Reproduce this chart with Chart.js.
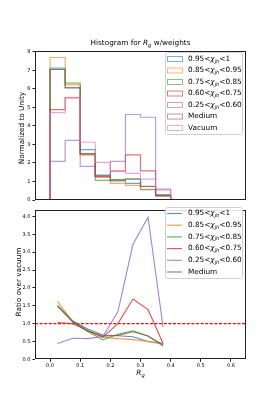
<!DOCTYPE html>
<html>
<head>
<meta charset="utf-8">
<script src="https://cdn.jsdelivr.net/npm/chart.js@4.4.0/dist/chart.umd.min.js"></script>
<style>
  html, body { margin: 0; padding: 0; background: #fff; }
  #wrap { position: relative; width: 274px; height: 411px; }
  #histCanvas { position: absolute; left: 0; top: 0; }
  #ratioCanvas { position: absolute; left: 0; top: 205px; }
</style>
</head>
<body>
<div id="wrap">
  <canvas id="histCanvas" width="274" height="205"></canvas>
  <canvas id="ratioCanvas" width="274" height="206"></canvas>
</div>
<script>
/* Rg histogram (step outlines) + ratio over vacuum */

const binEdges = [0, 0.05, 0.1, 0.15, 0.2, 0.25, 0.3, 0.35, 0.4];
const binCenters = [0.025, 0.075, 0.125, 0.175, 0.225, 0.275, 0.325, 0.375];
const xTicks = [0, 0.1, 0.2, 0.3, 0.4, 0.5, 0.6];
const histYTicks = [0, 1, 2, 3, 4, 5, 6, 7, 8];
const ratioYTicks = [0, 0.5, 1, 1.5, 2, 2.5, 3, 3.5, 4];

const labels = ["0.95<χjh<1", "0.85<χjh<0.95", "0.75<χjh<0.85", "0.60<χjh<0.75", "0.25<χjh<0.60", "Medium", "Vacuum"];
const colors = ["31,119,180", "255,127,14", "44,160,44", "214,39,40", "148,103,189", "140,86,75", "227,119,194"];

const histChi095 = [7.12, 6.05, 2.72, 1.35, 1.03, 0.9, 0.56, 0.28];
const histChi085 = [7.7, 6.22, 2.42, 1.25, 0.9, 0.79, 0.58, 0.24];
const histChi075 = [7.05, 6.31, 2.48, 1.06, 1.1, 1.14, 0.74, 0.22];
const histChi060 = [4.88, 5.52, 2.5, 1.25, 1.56, 2.44, 1.57, 0.27];
const histChi025 = [2.09, 3.22, 1.82, 1.3, 2.09, 4.62, 4.47, 0.55];
const histMedium = [7.05, 6.07, 2.5, 1.3, 1.07, 1.12, 0.73, 0.22];
const histVacuum = [4.72, 5.55, 3.12, 2.03, 1.56, 1.44, 1.13, 0.6];

const ratioChi095 = [1.5, 1.08, 0.85, 0.68, 0.66, 0.63, 0.5, 0.45];
const ratioChi085 = [1.62, 1.05, 0.8, 0.62, 0.58, 0.55, 0.5, 0.42];
const ratioChi075 = [1.5, 1.05, 0.78, 0.54, 0.7, 0.8, 0.65, 0.37];
const ratioChi060 = [1.03, 1.0, 0.8, 0.62, 1.0, 1.69, 1.39, 0.44];
const ratioChi025 = [0.44, 0.59, 0.58, 0.64, 1.33, 3.22, 3.98, 0.9];
const ratioMedium = [1.48, 1.05, 0.8, 0.65, 0.67, 0.77, 0.65, 0.4];

const histSeries = [histChi095, histChi085, histChi075, histChi060, histChi025, histMedium, histVacuum];
const ratioSeries = [ratioChi095, ratioChi085, ratioChi075, ratioChi060, ratioChi025, ratioMedium];

const FONT = "DejaVu Sans";
const tickFont = { family: FONT, size: 5 };
const rgba = (c, a) => `rgba(${c},${a})`;

// step outline points: up from 0 at first edge, down to 0 at last edge
function stepPoints(values) {
  const pts = [{ x: binEdges[0], y: 0 }];
  values.forEach((v, i) => pts.push({ x: binEdges[i], y: v }));
  pts.push({ x: binEdges[binEdges.length - 1], y: 0 });
  return pts;
}

// text with optional italic / subscript parts
function drawRich(ctx, parts, x, y, size, align) {
  const pieces = parts.map((p) => {
    const s = p.sub ? size * 0.7 : size;
    const f = `${p.italic ? "italic " : ""}${s}px "${FONT}"`;
    ctx.font = f;
    return { t: p.t, f, w: ctx.measureText(p.t).width, dy: p.sub ? size * 0.3 : 0 };
  });
  const total = pieces.reduce((a, p) => a + p.w, 0);
  let cx = align === "center" ? x - total / 2 : x;
  ctx.textAlign = "left";
  ctx.textBaseline = "middle";
  ctx.fillStyle = "#000";
  pieces.forEach((p) => {
    ctx.font = p.f;
    ctx.fillText(p.t, cx, y + p.dy);
    cx += p.w;
  });
}

function labelParts(lbl) {
  const m = lbl.match(/^(.*<)χjh(<.*)$/);
  if (!m) return [{ t: lbl }];
  return [{ t: m[1] }, { t: "χ", italic: true }, { t: "jh", italic: true, sub: true }, { t: m[2] }];
}

const framePlugin = {
  id: "frame",
  afterDatasetsDraw(chart) {
    const { ctx, chartArea: a } = chart;
    ctx.save();
    ctx.strokeStyle = "#222";
    ctx.lineWidth = 1;
    ctx.strokeRect(Math.round(a.left) + 0.5, Math.round(a.top) + 0.5, Math.round(a.right - a.left) - 1, Math.round(a.bottom - a.top) - 1);
    ctx.restore();
  },
};

function legendBox(ctx, x, y, w, h) {
  ctx.beginPath();
  ctx.roundRect(x, y, w, h, 2);
  ctx.fillStyle = "rgba(255,255,255,0.85)";
  ctx.fill();
  ctx.strokeStyle = "#d0d0d0";
  ctx.lineWidth = 1;
  ctx.stroke();
}

const histDecor = {
  id: "histDecor",
  afterDraw(chart) {
    const ctx = chart.ctx;
    ctx.save();
    drawRich(ctx, [{ t: "Histogram for " }, { t: "R", italic: true }, { t: "g", italic: true, sub: true }, { t: " w/weights" }], 140.5, 43, 7.3, "center");
    ctx.translate(22.5, 128);
    ctx.rotate(-Math.PI / 2);
    drawRich(ctx, [{ t: "Normalized to Unity" }], 0, 0, 7.3, "center");
    ctx.setTransform(1, 0, 0, 1, 0, 0);
    legendBox(ctx, 165.5, 52.5, 77, 82);
    labels.forEach((lbl, i) => {
      const y = 59 + i * 11.5;
      ctx.strokeStyle = rgba(colors[i], 0.6);
      ctx.lineWidth = 1;
      ctx.strokeRect(167.5, y - 2.5, 15, 5);
      drawRich(ctx, labelParts(lbl), 188, y, 7.3, "left");
    });
    ctx.restore();
  },
};

const ratioDecor = {
  id: "ratioDecor",
  afterDraw(chart) {
    const ctx = chart.ctx;
    ctx.save();
    drawRich(ctx, [{ t: "R", italic: true }, { t: "g", italic: true, sub: true }], 140.5, 168, 7.3, "center");
    ctx.translate(19, 77);
    ctx.rotate(-Math.PI / 2);
    drawRich(ctx, [{ t: "Ratio over vacuum" }], 0, 0, 7.3, "center");
    ctx.setTransform(1, 0, 0, 1, 0, 0);
    legendBox(ctx, 165.5, 2.5, 77, 71);
    ratioSeries.forEach((s, i) => {
      const y = 8.5 + i * 11.7;
      ctx.strokeStyle = rgba(colors[i], 0.75);
      ctx.lineWidth = 1.2;
      ctx.beginPath();
      ctx.moveTo(167, y);
      ctx.lineTo(182, y);
      ctx.stroke();
      drawRich(ctx, labelParts(labels[i]), 188, y, 7.3, "left");
    });
    ctx.restore();
  },
};

function yScale(max, ticks, fmt) {
  return {
    type: "linear",
    min: 0,
    max,
    afterBuildTicks: (s) => { s.ticks = ticks.map((v) => ({ value: v })); },
    afterFit: (s) => { s.width = 35; },
    ticks: { font: tickFont, color: "#000", padding: 2, callback: fmt },
    grid: { drawOnChartArea: false, tickLength: 2.5, color: "#222" },
    border: { display: false },
  };
}

new Chart(document.getElementById("histCanvas"), {
  type: "line",
  data: {
    datasets: histSeries.map((vals, i) => ({
      label: labels[i],
      data: stepPoints(vals),
      borderColor: rgba(colors[i], 0.65),
      borderWidth: 1.2,
      stepped: "before",
      pointRadius: 0,
      fill: false,
      order: 10 - i,
    })),
  },
  options: {
    responsive: false,
    animation: false,
    layout: { padding: { top: 51, right: 28, left: 0, bottom: 0 } },
    plugins: { legend: { display: false }, tooltip: { enabled: false } },
    scales: {
      x: { type: "linear", min: -0.05, max: 0.65, display: false },
      y: yScale(8.05, histYTicks, (v) => String(v)),
    },
  },
  plugins: [framePlugin, histDecor],
});

const ratioDatasets = ratioSeries.map((vals, i) => ({
  label: labels[i],
  data: binCenters.map((x, j) => ({ x, y: vals[j] })),
  borderColor: rgba(colors[i], 0.8),
  borderWidth: 1.1,
  pointRadius: 0,
  tension: 0,
  fill: false,
  order: 10 - i,
}));
ratioDatasets.push({
  label: "unity",
  data: [{ x: -0.05, y: 1 }, { x: 0.65, y: 1 }],
  borderColor: "#ff0000",
  borderWidth: 1.3,
  borderDash: [3, 1.6],
  pointRadius: 0,
  fill: false,
  order: 20,
});

new Chart(document.getElementById("ratioCanvas"), {
  type: "line",
  data: { datasets: ratioDatasets },
  options: {
    responsive: false,
    animation: false,
    layout: { padding: { top: 0, right: 28, left: 0, bottom: 0 } },
    plugins: { legend: { display: false }, tooltip: { enabled: false } },
    scales: {
      x: {
        type: "linear",
        min: -0.05,
        max: 0.65,
        afterBuildTicks: (s) => { s.ticks = xTicks.map((v) => ({ value: v })); },
        afterFit: (s) => { s.height = 51.7; },
        ticks: { font: tickFont, color: "#000", padding: 1, maxRotation: 0, autoSkip: false, callback: (v) => v.toFixed(1) },
        grid: { drawOnChartArea: false, tickLength: 2.5, color: "#222" },
        border: { display: false },
      },
      y: yScale(4.18, ratioYTicks, (v) => v.toFixed(1)),
    },
  },
  plugins: [framePlugin, ratioDecor],
});
</script>
</body>
</html>
